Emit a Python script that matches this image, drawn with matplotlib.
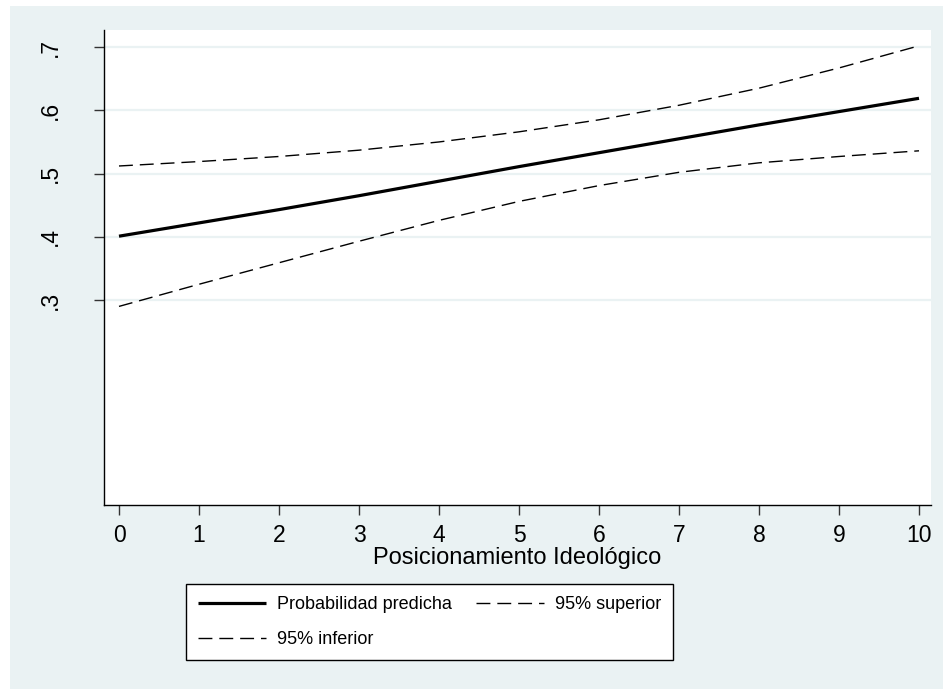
import numpy as np
import matplotlib
matplotlib.use("Agg")
import matplotlib.pyplot as plt
from matplotlib.patches import Rectangle

# predicted probability and 95% band over the ideology scale
ideologia = [0, 1, 2, 3, 4, 5, 6, 7, 8, 9, 10]
prob_predicha = [0.401, 0.422, 0.443, 0.465, 0.488, 0.511, 0.533, 0.555, 0.577, 0.598, 0.619]
ic_superior = [0.512, 0.519, 0.527, 0.537, 0.550, 0.566, 0.585, 0.608, 0.635, 0.667, 0.702]
ic_inferior = [0.290, 0.325, 0.359, 0.393, 0.426, 0.456, 0.481, 0.502, 0.517, 0.527, 0.536]

yticks = [0.3, 0.4, 0.5, 0.6, 0.7]
ytick_labels = [".3", ".4", ".5", ".6", ".7"]

bg = "#EAF2F3"
plt.rcParams['font.family'] = ['Liberation Sans', 'DejaVu Sans']

fig = plt.figure(figsize=(9.43, 6.89), dpi=100, facecolor="white")
# light outer panel behind everything
fig.patches.append(Rectangle((10 / 943, 0), 933 / 943, 1 - 6 / 689,
                             transform=fig.transFigure, facecolor=bg,
                             edgecolor="none", zorder=-10))

ax = fig.add_axes([104 / 943, 1 - 505 / 689, 827 / 943, 475 / 689])
ax.set_facecolor("white")

ln_pred, = ax.plot(ideologia, prob_predicha, color="black", lw=2.3,
                   solid_capstyle="butt", zorder=3)
ln_sup, = ax.plot(ideologia, ic_superior, color="black", lw=1.0,
                  dashes=(10, 5), zorder=3)
ln_inf, = ax.plot(ideologia, ic_inferior, color="black", lw=1.0,
                  dashes=(10, 5), zorder=3)

ax.set_xlim(-0.1875, 10.15)
ax.set_ylim(-0.024, 0.727)
ax.set_xticks(ideologia)
ax.set_yticks(yticks)
ax.set_yticklabels(ytick_labels, rotation=90, va="center")

ax.grid(axis="y", color=bg, lw=1.6)
ax.set_axisbelow(True)
for side in ("top", "right"):
    ax.spines[side].set_visible(False)
for side in ("left", "bottom"):
    ax.spines[side].set_linewidth(1.0)

ax.tick_params(axis="x", length=7, width=1, pad=7, labelsize=16.5, color="#333333")
ax.tick_params(axis="y", length=7, width=1, pad=23, labelsize=16.5, color="#333333")
ax.set_xlabel("Posicionamiento Ideológico", fontsize=17, labelpad=0)

# row-major order: predicha, superior on first row, inferior on second
handles = [ln_pred, ln_inf, ln_sup]
labels = ["Probabilidad predicha", "95% inferior", "95% superior"]
leg = fig.legend(handles, labels, ncol=2, loc="center",
                 bbox_to_anchor=(429.5 / 943, 1 - 622 / 689),
                 fontsize=13, handlelength=3.8, handletextpad=0.6,
                 labelspacing=1.0, borderpad=0.65, borderaxespad=0,
                 fancybox=False, framealpha=1, edgecolor="black",
                 columnspacing=1.3)
leg.get_frame().set_linewidth(1.0)

fig.savefig("out.png", dpi=100, facecolor=fig.get_facecolor())
